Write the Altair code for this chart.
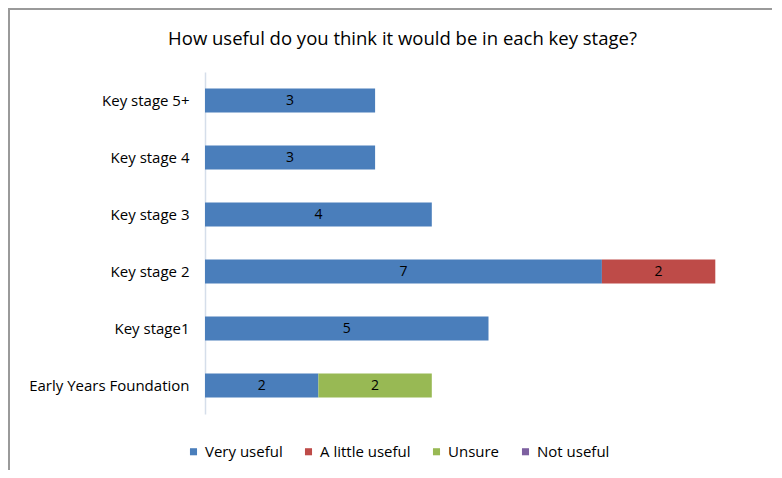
import altair as alt
import pandas as pd

stages = ["Key stage 5+", "Key stage 4", "Key stage 3", "Key stage 2", "Key stage1", "Early Years Foundation"]
series = ["Very useful", "A little useful", "Unsure", "Not useful"]
very_useful = [3, 3, 4, 7, 5, 2]
a_little_useful = [0, 0, 0, 2, 0, 0]
unsure = [0, 0, 0, 0, 0, 2]
not_useful = [0, 0, 0, 0, 0, 0]
colors = ["#4A7EBB", "#BE4B48", "#98B954", "#7D60A0"]

rows = []
for si, (name, vals) in enumerate(zip(series, [very_useful, a_little_useful, unsure, not_useful])):
    for st, v in zip(stages, vals):
        rows.append({"stage": st, "series": name, "value": v, "order": si})
df = pd.DataFrame(rows)

FONT = "Open Sans"

y_enc = alt.Y("stage:N", sort=stages,
              scale=alt.Scale(paddingInner=0.58, paddingOuter=0.29),
              axis=alt.Axis(title=None, ticks=False, domainColor="#D5DEEA", domainWidth=1.5,
                            labelFontSize=15, labelColor="#000000", labelPadding=16, labelFont=FONT))
x_enc = alt.X("value:Q", stack="zero", scale=alt.Scale(domain=[0, 10]), axis=None)

bars = alt.Chart(df).mark_bar().encode(
    y=y_enc,
    x=x_enc,
    color=alt.Color("series:N", sort=series,
                    scale=alt.Scale(domain=series, range=colors),
                    legend=alt.Legend(title=None, orient="none", direction="horizontal", columns=4,
                                      legendX=-19, legendY=372, symbolType="square", symbolSize=50,
                                      labelFontSize=15, labelFont=FONT, columnPadding=18,
                                      symbolStrokeWidth=0, labelColor="#000000")),
    order=alt.Order("order:Q"),
)

labels = alt.Chart(df).transform_filter("datum.value > 0").transform_stack(
    stack="value", groupby=["stage"], as_=["v0", "v1"], sort=[alt.SortField("order", "ascending")]
).transform_calculate(mid="(datum.v0 + datum.v1) / 2").mark_text(
    fontSize=14, font=FONT, color="#000000", baseline="middle"
).encode(
    y=alt.Y("stage:N", sort=stages),
    x=alt.X("mid:Q"),
    text="value:Q",
)

frame_df = pd.DataFrame({"k": [0]})
top_line = alt.Chart(frame_df).mark_rule(color="#9A9A9A", strokeWidth=2).encode(
    x=alt.value(-197), x2=alt.value(577), y=alt.value(-63))
left_line = alt.Chart(frame_df).mark_rule(color="#9A9A9A", strokeWidth=2).encode(
    x=alt.value(-196), y=alt.value(-63), y2=alt.value(400))

chart = alt.layer(bars, labels, top_line, left_line).properties(
    width=567, height=342,
    autosize=alt.AutoSizeParams(type="none"),
    padding={"left": 197, "top": 64, "right": 0, "bottom": 56},
    title=alt.TitleParams("How useful do you think it would be in each key stage?",
                          fontSize=18.5, font=FONT, fontWeight="normal", color="#000000",
                          anchor="middle", frame="group", dx=-86, offset=-40),
).configure_view(stroke=None)

chart.save("out.html", embed_options={"renderer": "svg", "actions": False})
